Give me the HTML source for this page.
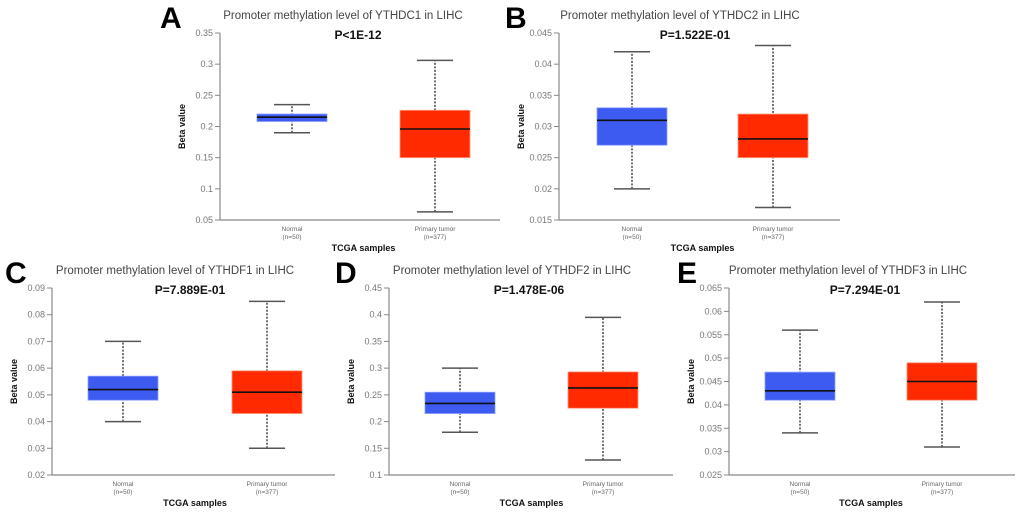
<!DOCTYPE html>
<html><head><meta charset="utf-8"><style>
body{margin:0;background:#fff;width:1020px;height:520px;overflow:hidden}
svg{font-family:"Liberation Sans",sans-serif}
</style></head><body>
<svg id="fig" width="1020" height="520"></svg>
<script>
// Panel data (whiskerLow, q1, median, q3, whiskerHigh) per group
const panelLetters = ["A","B","C","D","E"];
const panelGenes = ["YTHDC1","YTHDC2","YTHDF1","YTHDF2","YTHDF3"];
const panelPvalues = ["P<1E-12","P=1.522E-01","P=7.889E-01","P=1.478E-06","P=7.294E-01"];
const normalA = [0.19,0.208,0.215,0.22,0.235];
const tumorA = [0.063,0.15,0.196,0.226,0.306];
const normalB = [0.020,0.027,0.031,0.033,0.042];
const tumorB = [0.017,0.025,0.028,0.032,0.043];
const normalC = [0.040,0.048,0.052,0.057,0.070];
const tumorC = [0.030,0.043,0.051,0.059,0.085];
const normalD = [0.18,0.215,0.234,0.255,0.30];
const tumorD = [0.128,0.225,0.263,0.293,0.395];
const normalE = [0.034,0.041,0.043,0.047,0.056];
const tumorE = [0.031,0.041,0.045,0.049,0.062];
const ticksA = ["0.05","0.1","0.15","0.2","0.25","0.3","0.35"];
const ticksB = ["0.015","0.02","0.025","0.03","0.035","0.04","0.045"];
const ticksC = ["0.02","0.03","0.04","0.05","0.06","0.07","0.08","0.09"];
const ticksD = ["0.1","0.15","0.2","0.25","0.3","0.35","0.4","0.45"];
const ticksE = ["0.025","0.03","0.035","0.04","0.045","0.05","0.055","0.06","0.065"];

const layout = [
 {ax:220,top:33,bot:220,right:500,ncx:292,tcx:435,title:343,p:358,lx:160},
 {ax:559,top:33,bot:220,right:840,ncx:632,tcx:773,title:680,p:695,lx:505},
 {ax:52,top:288,bot:475,right:335,ncx:123,tcx:267,title:175,p:190,lx:5},
 {ax:389,top:288,bot:475,right:673,ncx:460,tcx:603,title:512,p:529,lx:335},
 {ax:729,top:288,bot:475,right:1015,ncx:800,tcx:942,title:848,p:865,lx:677}
];
const normals=[normalA,normalB,normalC,normalD,normalE];
const tumors=[tumorA,tumorB,tumorC,tumorD,tumorE];
const ticks=[ticksA,ticksB,ticksC,ticksD,ticksE];
const NS="http://www.w3.org/2000/svg";
const svg=document.getElementById('fig');
function mk(tag,attrs,parent,text){const e=document.createElementNS(NS,tag);for(const k in attrs)e.setAttribute(k,attrs[k]);if(text!==undefined)e.textContent=text;parent.appendChild(e);return e;}

layout.forEach((L,i)=>{
  const g=mk('g',{},svg);
  
  
  const tv=ticks[i].map(Number);
  const lo=tv[0],hi=tv[tv.length-1];
  const y=v=>L.bot-(v-lo)/(hi-lo)*(L.bot-L.top);
  let t=mk('text',{x:L.lx,y:L.top-5,'font-size':30,'font-weight':'bold',fill:'#000'},g,panelLetters[i]);
  
  t=mk('text',{x:L.title,y:L.top-14,'font-size':11.5,fill:'#444','text-anchor':'middle'},g,'Promoter methylation level of '+panelGenes[i]+' in LIHC');
  
  t=mk('text',{x:L.p,y:L.top+6,'font-size':12,'font-weight':'bold',fill:'#111','text-anchor':'middle'},g,panelPvalues[i]);
  
  // axes
  let a=mk('line',{x1:L.ax,y1:L.top,x2:L.ax,y2:L.bot,stroke:'#888','stroke-width':1.2},g);
  
  a=mk('line',{x1:L.ax,y1:L.bot,x2:L.right,y2:L.bot,stroke:'#888','stroke-width':1.2},g);
  
  ticks[i].forEach(s=>{
    const yy=y(Number(s));
    mk('line',{x1:L.ax-5,y1:yy,x2:L.ax,y2:yy,stroke:'#888','stroke-width':1},g);
    const tl=mk('text',{x:L.ax-7,y:yy+3,'font-size':9,fill:'#777','text-anchor':'end'},g,s);
    
    
  });
  t=mk('text',{transform:`translate(${L.ax-35},${(L.top+L.bot)/2}) rotate(-90)`,'font-size':9,'font-weight':'bold','text-anchor':'middle',fill:'#111'},g,'Beta value');
  
  t=mk('text',{x:(L.ncx+L.tcx)/2,y:L.bot+31,'font-size':9,'font-weight':'bold','text-anchor':'middle',fill:'#111'},g,'TCGA samples');
  
  [[L.ncx,normals[i],'#3d5af1','#8ea0ff','Normal','(n=50)','normal'],[L.tcx,tumors[i],'#ff2a00','#ff9a80','Primary tumor','(n=377)','tumor']].forEach(([cx,d,col,edge,lab,n,key])=>{
    const bg=mk('g',{},g);
    
    
    mk('line',{x1:cx,y1:y(d[0]),x2:cx,y2:y(d[4]),stroke:'#444','stroke-width':1.5,'stroke-dasharray':'2,1.5'},bg);
    mk('line',{x1:cx-18,y1:y(d[0]),x2:cx+18,y2:y(d[0]),stroke:'#555','stroke-width':1.5},bg);
    mk('line',{x1:cx-18,y1:y(d[4]),x2:cx+18,y2:y(d[4]),stroke:'#555','stroke-width':1.5},bg);
    mk('rect',{x:cx-35,y:y(d[3]),width:70,height:y(d[1])-y(d[3]),fill:col,stroke:edge,'stroke-width':0.8},bg);
    mk('line',{x1:cx-35,y1:y(d[2]),x2:cx+35,y2:y(d[2]),stroke:'#111','stroke-width':1.6},bg);
    let xl=mk('text',{x:cx,y:L.bot+11,'font-size':6.5,fill:'#666','text-anchor':'middle'},g,lab);
    
    
    xl=mk('text',{x:cx,y:L.bot+19,'font-size':6.5,fill:'#666','text-anchor':'middle'},g,n);
    
    
  });
});
</script>
</body></html>
